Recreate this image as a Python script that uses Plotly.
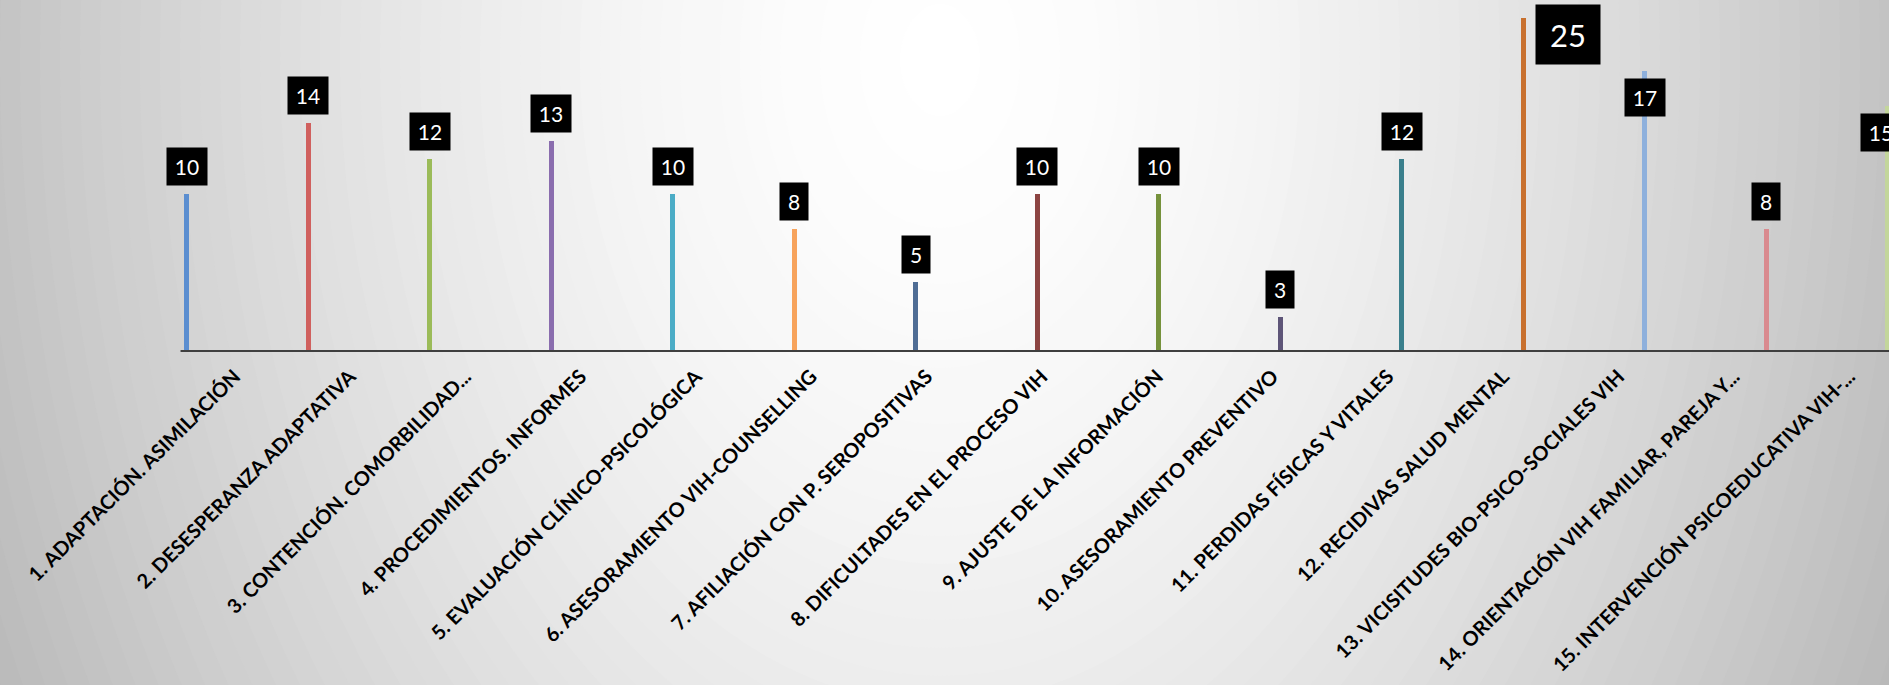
import plotly.graph_objects as go

categories = [
    "1. ADAPTACIÓN. ASIMILACIÓN",
    "2. DESESPERANZA ADAPTATIVA",
    "3. CONTENCIÓN. COMORBILIDAD...",
    "4. PROCEDIMIENTOS. INFORMES",
    "5. EVALUACIÓN CLÍNICO-PSICOLÓGICA",
    "6. ASESORAMIENTO VIH-COUNSELLING",
    "7. AFILIACIÓN CON P. SEROPOSITIVAS",
    "8. DIFICULTADES EN EL PROCESO VIH",
    "9. AJUSTE DE LA INFORMACIÓN",
    "10. ASESORAMIENTO PREVENTIVO",
    "11. PERDIDAS FÍSICAS Y VITALES",
    "12. RECIDIVAS SALUD MENTAL",
    "13. VICISITUDES BIO-PSICO-SOCIALES VIH",
    "14. ORIENTACIÓN VIH FAMILIAR, PAREJA Y...",
    "15. INTERVENCIÓN PSICOEDUCATIVA VIH-...",
]
values = [10, 14, 12, 13, 10, 8, 5, 10, 10, 3, 12, 25, 17, 8, 15]
colors = [
    "#5B8ED0", "#D0605E", "#9BBB59", "#8A6DAE", "#4BACC6",
    "#F7A35C", "#4F6D95", "#8C4442", "#76923C", "#5E5578",
    "#3A7F8C", "#C8702E", "#8EB0DC", "#D98A8F", "#C3D69B",
]

W, H = 1889, 685
Y_MIN, Y_MAX = 1, 20
M_T, M_B = 18, 333
X_RANGE = [-1.536, 14.011]
X2_RANGE = [-2.035, 14.345]

fig = go.Figure()

# background radial gradient (stepped ellipses)
plot_h = H - M_T - M_B
cx, cy, Rx, Ry = 940, 60, 1000, 1400
N = 70
for i in range(N):
    r = 1.4 * (1 - i / N)
    g = int(round(255 - 64 * min(r, 1.1) ** 1.6))
    g = max(min(g, 255), 0)
    x0 = (cx - r * Rx) / W
    x1 = (cx + r * Rx) / W
    y0 = (H - M_B - (cy + r * Ry)) / plot_h
    y1 = (H - M_B - (cy - r * Ry)) / plot_h
    fig.add_shape(type="circle", xref="paper", yref="paper",
                  x0=x0, x1=x1, y0=y0, y1=y1,
                  fillcolor=f"rgb({g},{g},{g})", line_width=0, layer="below")

fig.add_trace(go.Bar(
    x=categories, y=[v - Y_MIN for v in values], base=Y_MIN,
    marker_color=colors, width=0.042, marker_line_width=0,
    customdata=values, hovertemplate="%{x}: %{customdata}<extra></extra>",
    showlegend=False,
))

fig.add_trace(go.Scatter(x=list(range(len(categories))), y=[None] * len(categories),
                         xaxis="x2", yaxis="y", mode="markers", showlegend=False,
                         hoverinfo="skip"))

# category axis line
fig.add_shape(type="line", xref="x", yref="y", x0=-0.05, x1=X_RANGE[1] + 1,
              y0=Y_MIN, y1=Y_MIN, line=dict(color="#3f3f3f", width=4), layer="above")

span = X_RANGE[1] - X_RANGE[0]
for i, (c, v) in enumerate(zip(categories, values)):
    txt = str(v)
    w = 28 if len(txt) == 1 else 40
    px = (i - X_RANGE[0]) / span * W
    overflow = px + w / 2 - (W + 12)
    xs = -overflow if overflow > 0 else 0
    font = dict(color="white", size=21, family="Lato")
    if v > Y_MAX:
        fig.add_annotation(x=c, y=Y_MAX, xref="x", yref="y", text=txt,
                           showarrow=False, xanchor="left", yanchor="top",
                           xshift=12, yshift=14, bgcolor="black", width=64, height=59,
                           borderpad=0, font=dict(color="white", size=31, family="Lato"))
    elif v >= 15:
        fig.add_annotation(x=c, y=v, xref="x", yref="y", text=txt,
                           showarrow=False, xanchor="center", yanchor="top",
                           xshift=xs, yshift=-7, bgcolor="black", width=w, height=37,
                           borderpad=0, font=font)
    else:
        fig.add_annotation(x=c, y=v, xref="x", yref="y", text=txt,
                           showarrow=False, xanchor="center", yanchor="bottom",
                           xshift=xs, yshift=8, bgcolor="black", width=w, height=37,
                           borderpad=0, font=font)

fig.update_layout(
    width=W, height=H,
    margin=dict(l=0, r=0, t=M_T, b=M_B, autoexpand=False),
    paper_bgcolor="#c8c8c8", plot_bgcolor="rgba(0,0,0,0)",
    font=dict(family="Lato", color="black"),
    bargap=0,
    xaxis=dict(type="category", range=X_RANGE, showticklabels=False, automargin=False,
               showgrid=False, zeroline=False, showline=False, ticks=""),
    xaxis2=dict(overlaying="x", anchor="y", side="bottom", range=X2_RANGE,
                automargin=False, ticklabeloverflow="allow", ticklabelstandoff=8,
                tickmode="array", tickvals=list(range(len(categories))),
                ticktext=categories, tickangle=-45, showgrid=False,
                zeroline=False, showline=False, ticks="",
                tickfont=dict(family="Lato", size=20, color="black", weight="bold")),
    yaxis=dict(range=[Y_MIN, Y_MAX], visible=False, automargin=False,
               showgrid=False, zeroline=False),
)

fig.write_html("out.html", config={"displayModeBar": False},
               post_script="document.body.style.margin='0';document.body.style.overflow='hidden';")
